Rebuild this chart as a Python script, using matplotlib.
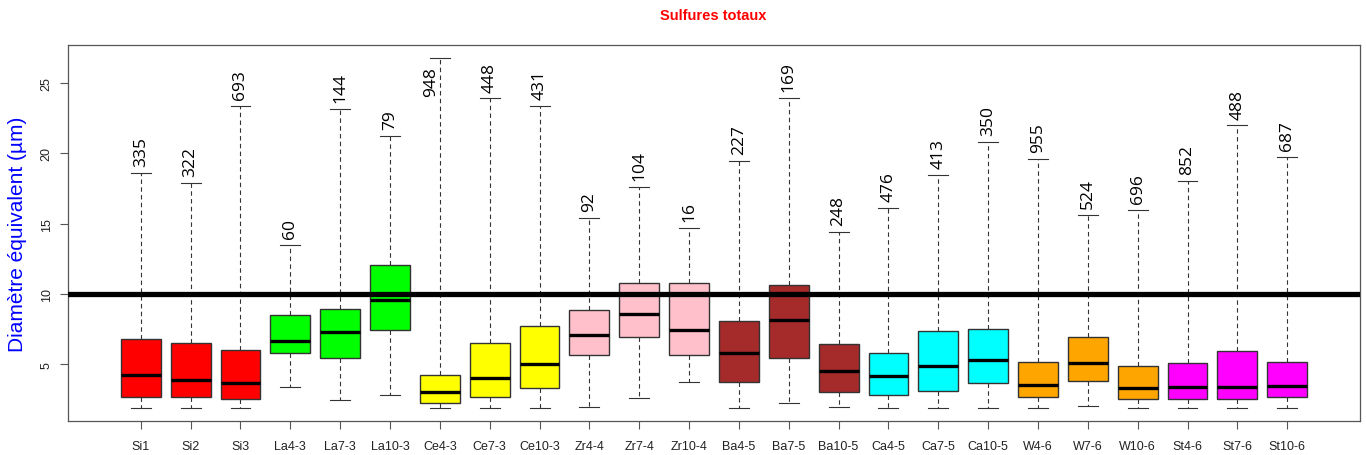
import matplotlib.pyplot as plt

# groups along the x axis
labels = ['Si1', 'Si2', 'Si3', 'La4-3', 'La7-3', 'La10-3', 'Ce4-3', 'Ce7-3', 'Ce10-3',
          'Zr4-4', 'Zr7-4', 'Zr10-4', 'Ba4-5', 'Ba7-5', 'Ba10-5', 'Ca4-5', 'Ca7-5', 'Ca10-5',
          'W4-6', 'W7-6', 'W10-6', 'St4-6', 'St7-6', 'St10-6']

# box statistics (µm)
whislo = [1.91, 1.91, 1.91, 3.38, 2.45, 2.79, 1.91, 1.91, 1.91,
          1.95, 2.60, 3.74, 1.91, 2.21, 1.95, 1.91, 1.91, 1.91,
          1.91, 2.02, 1.91, 1.91, 1.91, 1.91]
q1 = [2.69, 2.69, 2.50, 5.79, 5.43, 7.43, 2.26, 2.69, 3.33,
      5.67, 6.95, 5.67, 3.74, 5.43, 3.02, 2.83, 3.07, 3.66,
      2.67, 3.79, 2.50, 2.50, 2.55, 2.69]
med = [4.21, 3.86, 3.66, 6.67, 7.31, 9.60, 3.02, 4.02, 5.02,
       7.07, 8.55, 7.43, 5.83, 8.14, 4.55, 4.19, 4.90, 5.31,
       3.55, 5.07, 3.31, 3.38, 3.38, 3.45]
q3 = [6.78, 6.48, 6.00, 8.48, 8.95, 12.05, 4.24, 6.52, 7.69,
      8.88, 10.76, 10.76, 8.10, 10.60, 6.45, 5.83, 7.36, 7.48,
      5.17, 6.95, 4.88, 5.10, 5.95, 5.14]
whishi = [18.63, 17.86, 23.34, 13.48, 23.14, 21.24, 26.79, 23.90, 23.38,
          15.43, 17.60, 14.71, 19.43, 23.95, 14.38, 16.14, 18.43, 20.83,
          19.62, 15.62, 16.00, 18.02, 21.98, 19.74]

# number of particles per group
counts = [335, 322, 693, 60, 144, 79, 948, 448, 431,
          92, 104, 16, 227, 169, 248, 476, 413, 350,
          955, 524, 696, 852, 488, 687]

colors = ['red'] * 3 + ['#00FF00'] * 3 + ['yellow'] * 3 + ['pink'] * 3 + \
         ['brown'] * 3 + ['cyan'] * 3 + ['orange'] * 3 + ['magenta'] * 3

threshold = 10

fig = plt.figure(figsize=(13.66, 4.56), dpi=100)
ax = fig.add_axes([0.0498, 0.0746, 0.9458, 0.8244])

stats = []
for i in range(len(labels)):
    stats.append({'label': labels[i], 'whislo': whislo[i], 'q1': q1[i], 'med': med[i],
                  'q3': q3[i], 'whishi': whishi[i], 'fliers': []})

pos = list(range(1, len(labels) + 1))
bp = ax.bxp(stats, positions=pos, widths=0.8, patch_artist=True, showfliers=False,
            boxprops=dict(edgecolor='#333333', linewidth=1.0),
            medianprops=dict(color='black', linewidth=2.4, solid_capstyle='butt'),
            whiskerprops=dict(color='#333333', linewidth=0.8, linestyle=(0, (4, 3))),
            capprops=dict(color='#333333', linewidth=0.8),
            capwidths=0.4)
for patch, c in zip(bp['boxes'], colors):
    patch.set_facecolor(c)

# reference line at 10 µm
ax.axhline(threshold, color='black', linewidth=3.8, zorder=5)

ax.set_xlim(0.5 - 0.96, len(labels) + 0.5 + 0.96)
ax.set_ylim(0.96, 27.7)

# counts above each upper whisker; if there is no room, tuck it beside the whisker
for p, top, n in zip(pos, whishi, counts):
    if top > 25:
        ax.annotate(str(n), (p, top), xytext=(-6, -6), textcoords='offset points',
                    rotation=90, ha='center', va='top', fontsize=12.5,
                    family='Open Sans', color='black')
    else:
        ax.annotate(str(n), (p, top), xytext=(0, 5), textcoords='offset points',
                    rotation=90, ha='center', va='bottom', fontsize=12.5,
                    family='Open Sans', color='black')

ax.set_xticks(pos)
ax.set_xticklabels(labels, fontsize=9, family='Liberation Sans', color='#222222')
ax.set_yticks([5, 10, 15, 20, 25])
ax.set_yticklabels(['5', '10', '15', '20', '25'], rotation=90, va='center',
                   fontsize=9, family='Liberation Sans', color='#222222')
ax.tick_params(axis='both', direction='out', length=6, width=0.8, color='#555555')
ax.tick_params(axis='x', pad=8)
ax.tick_params(axis='y', pad=5)
for s in ax.spines.values():
    s.set_color('#555555')
    s.set_linewidth(0.9)

ax.set_ylabel('Diamètre équivalent (µm)', color='blue', fontsize=15,
              family='Liberation Sans', labelpad=10)
fig.text(0.522, 0.965, 'Sulfures totaux', color='red', fontsize=10.5,
         fontweight='bold', family='Liberation Sans', ha='center', va='center')

fig.savefig('out.png', dpi=100)
